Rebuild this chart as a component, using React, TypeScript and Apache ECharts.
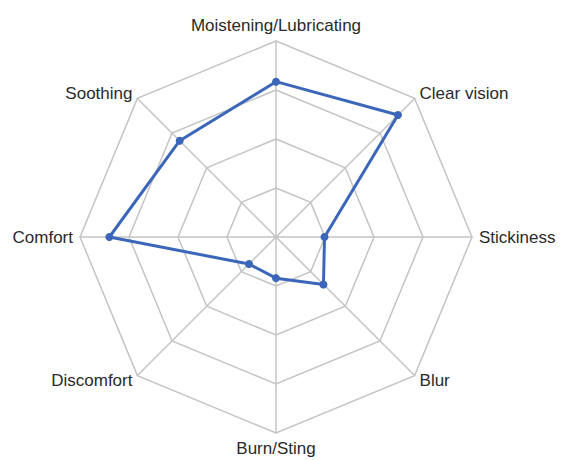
import React, { useEffect, useRef } from "react";
import * as echarts from "echarts";

const indicatorNames = [
  "Moistening/Lubricating",
  "Soothing",
  "Comfort",
  "Discomfort",
  "Burn/Sting",
  "Blur",
  "Stickiness",
  "Clear vision",
];
const axisMax = 4;
const seriesValues = [3.17, 2.78, 3.4, 0.78, 0.84, 1.37, 0.99, 3.52];

export default function App() {
  const ref = useRef<HTMLDivElement>(null);
  useEffect(() => {
    if (!ref.current) return;
    const chart = echarts.init(ref.current, null, { renderer: "svg" });
    chart.setOption({
      animation: false,
      backgroundColor: "#ffffff",
      radar: {
        center: [276, 237],
        radius: 196,
        startAngle: 90,
        shape: "polygon",
        splitNumber: 4,
        nameGap: 7,
        indicator: indicatorNames.map((name) => ({ name, max: axisMax, min: 0 })),
        axisName: {
          color: "#2a2a2a",
          fontSize: 17,
          fontFamily: "Liberation Sans, Arial, sans-serif",
        },
        axisLine: { lineStyle: { color: "#c4c4c4", width: 1.5 } },
        splitLine: { lineStyle: { color: "#c4c4c4", width: 1.5 } },
        splitArea: { show: false },
        axisTick: { show: false },
        axisLabel: { show: false },
      },
      series: [
        {
          type: "radar",
          symbol: "circle",
          symbolSize: 8,
          lineStyle: { color: "#3b66b9", width: 3 },
          itemStyle: { color: "#3b66b9" },
          data: [{ value: seriesValues, name: "Score" }],
        },
      ],
    });
    return () => chart.dispose();
  }, []);
  return (
    <div
      ref={ref}
      style={{ position: "fixed", left: 0, top: 0, width: 563, height: 460, background: "#fff" }}
    />
  );
}
